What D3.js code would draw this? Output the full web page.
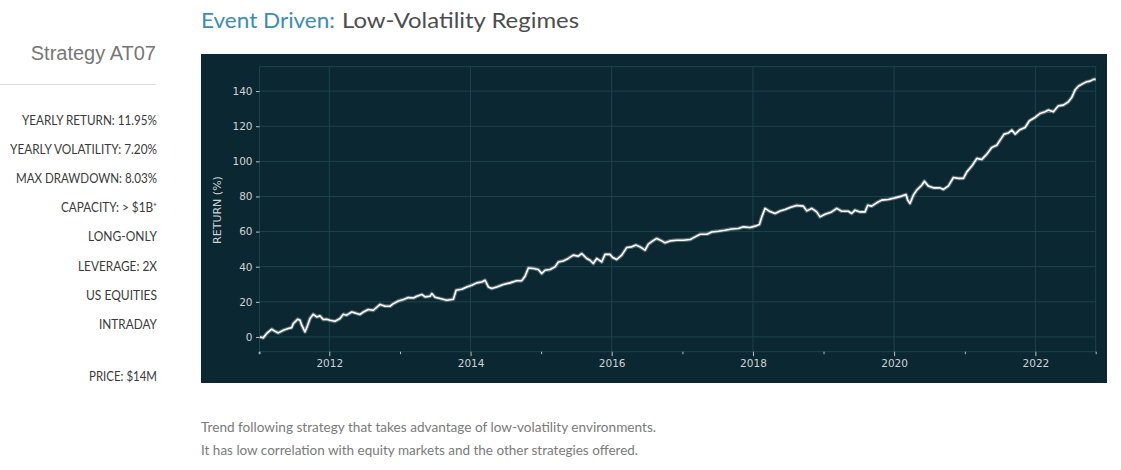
<!DOCTYPE html>
<html>
<head>
<meta charset="utf-8">
<script src="https://cdn.jsdelivr.net/npm/d3@7"></script>
<style>
  html, body { margin: 0; padding: 0; background: #fff; }
  svg { display: block; }
</style>
</head>
<body>
<svg id="page" width="1121" height="470"></svg>
<script>
const years = [
  2011.018, 2011.065, 2011.113, 2011.184, 2011.231, 2011.278, 2011.348, 2011.419, 2011.467, 2011.490,
  2011.552, 2011.585, 2011.609, 2011.656, 2011.688, 2011.727, 2011.773, 2011.822, 2011.868, 2011.915,
  2011.963, 2012.010, 2012.081, 2012.152, 2012.198, 2012.246, 2012.317, 2012.364, 2012.435, 2012.482,
  2012.552, 2012.623, 2012.718, 2012.789, 2012.860, 2012.907, 2012.977, 2013.048, 2013.119, 2013.190,
  2013.238, 2013.309, 2013.356, 2013.426, 2013.450, 2013.497, 2013.568, 2013.663, 2013.756, 2013.795,
  2013.875, 2013.946, 2014.017, 2014.088, 2014.159, 2014.205, 2014.252, 2014.300, 2014.371, 2014.465,
  2014.559, 2014.654, 2014.725, 2014.772, 2014.819, 2014.890, 2014.960, 2015.008, 2015.055, 2015.126,
  2015.197, 2015.244, 2015.314, 2015.385, 2015.456, 2015.527, 2015.575, 2015.646, 2015.693, 2015.739,
  2015.788, 2015.858, 2015.905, 2015.976, 2016.014, 2016.071, 2016.142, 2016.212, 2016.283, 2016.344,
  2016.401, 2016.472, 2016.518, 2016.581, 2016.637, 2016.708, 2016.755, 2016.826, 2016.921, 2017.014,
  2017.109, 2017.180, 2017.251, 2017.346, 2017.416, 2017.510, 2017.605, 2017.700, 2017.793, 2017.864,
  2017.959, 2018.030, 2018.091, 2018.125, 2018.171, 2018.242, 2018.313, 2018.384, 2018.455, 2018.525,
  2018.620, 2018.714, 2018.762, 2018.833, 2018.904, 2018.950, 2019.021, 2019.116, 2019.187, 2019.258,
  2019.351, 2019.399, 2019.446, 2019.517, 2019.588, 2019.626, 2019.683, 2019.754, 2019.824, 2019.918,
  2020.013, 2020.108, 2020.169, 2020.193, 2020.225, 2020.272, 2020.320, 2020.391, 2020.428, 2020.484,
  2020.555, 2020.650, 2020.697, 2020.768, 2020.839, 2020.909, 2020.980, 2021.028, 2021.099, 2021.171,
  2021.241, 2021.312, 2021.382, 2021.453, 2021.500, 2021.557, 2021.618, 2021.666, 2021.713, 2021.773,
  2021.854, 2021.915, 2021.995, 2022.067, 2022.137, 2022.184, 2022.255, 2022.326, 2022.397, 2022.467,
  2022.516, 2022.562, 2022.609, 2022.680, 2022.728, 2022.775, 2022.822, 2022.855
];
// cumulative return (%)
const returns = [
  0.0, -0.5, 2.0, 4.4, 3.2, 2.3, 3.8, 4.8, 5.3, 7.6,
  10.1, 9.5, 6.7, 2.9, 6.1, 10.5, 12.9, 11.4, 12.0, 9.9,
  10.1, 9.5, 8.9, 10.5, 12.9, 12.4, 14.2, 13.7, 12.8, 14.2,
  15.6, 15.2, 18.5, 17.5, 17.5, 19.0, 20.5, 21.3, 22.4, 22.2,
  23.2, 24.2, 22.8, 23.2, 24.7, 22.6, 21.9, 20.9, 21.5, 26.6,
  27.2, 28.5, 29.5, 30.8, 31.3, 32.3, 28.5, 27.6, 28.5, 29.9,
  30.8, 32.0, 32.0, 34.6, 39.3, 39.0, 38.4, 36.1, 38.0, 38.4,
  39.9, 42.7, 43.3, 44.7, 46.6, 46.0, 47.5, 44.7, 43.7, 41.8,
  44.7, 42.7, 47.0, 47.0, 45.2, 44.1, 46.6, 50.9, 51.3, 52.3,
  51.3, 49.4, 52.8, 54.7, 56.1, 54.7, 53.6, 54.7, 55.1, 55.1,
  55.5, 57.0, 58.5, 58.5, 59.8, 60.2, 60.8, 61.5, 61.8, 62.7,
  62.3, 63.1, 64.0, 68.4, 73.2, 71.4, 70.3, 71.7, 72.6, 73.7,
  74.9, 74.5, 71.8, 73.2, 71.2, 68.4, 69.9, 71.2, 73.2, 71.6,
  71.6, 70.3, 72.2, 71.2, 71.2, 75.0, 74.5, 76.4, 77.9, 78.3,
  79.2, 80.2, 81.1, 77.9, 76.0, 80.7, 83.6, 86.4, 88.7, 85.9,
  84.9, 84.9, 84.0, 86.0, 90.8, 90.3, 90.3, 94.0, 97.3, 101.7,
  101.1, 104.1, 107.9, 109.2, 112.1, 115.5, 116.2, 117.8, 115.5, 117.8,
  119.3, 123.1, 125.0, 127.3, 128.2, 129.2, 128.2, 131.6, 132.0, 133.9,
  136.4, 140.6, 142.8, 144.4, 145.3, 145.7, 146.7, 146.7
];
const yTicks = [0, 20, 40, 60, 80, 100, 120, 140];
const majorYears = [2012, 2014, 2016, 2018, 2020, 2022];
const minorYears = [2011, 2013, 2015, 2017, 2019, 2021];

const stats = [
  "YEARLY RETURN: 11.95%",
  "YEARLY VOLATILITY: 7.20%",
  "MAX DRAWDOWN: 8.03%",
  "CAPACITY: > $1B\u207A",
  "LONG-ONLY",
  "LEVERAGE: 2X",
  "US EQUITIES",
  "INTRADAY",
];
const statWidths = [135, 147, 141, 96, 69, 79, 71, 58];
const price = "PRICE: $14M";
const description = [
  "Trend following strategy that takes advantage of low-volatility environments.",
  "It has low correlation with equity markets and the other strategies offered.",
];

function toDate(t) {
  const y = Math.floor(t);
  const a = new Date(y, 0, 1);
  const b = new Date(y + 1, 0, 1);
  return new Date(+a + (t - y) * (b - a));
}

const svg = d3.select("#page");
const textFont = "Lato, 'Open Sans', sans-serif";

// ---- header & side column
svg.append("text")
  .attr("x", 201).attr("y", 28)
  .attr("textLength", 134).attr("lengthAdjust", "spacingAndGlyphs")
  .style("font-family", textFont).style("font-size", "22px")
  .attr("fill", "#3b8db3")
  .text("Event Driven:");
svg.append("text")
  .attr("x", 342).attr("y", 28)
  .attr("textLength", 237).attr("lengthAdjust", "spacingAndGlyphs")
  .style("font-family", textFont).style("font-size", "22px")
  .attr("fill", "#4d4d4d")
  .text("Low-Volatility Regimes");

svg.append("text")
  .attr("x", 156).attr("y", 60)
  .attr("text-anchor", "end")
  .style("font-family", "'Liberation Sans', Arial, sans-serif").style("font-size", "20px")
  .attr("fill", "#777")
  .text("Strategy AT07");
svg.append("line")
  .attr("x1", 0).attr("x2", 156).attr("y1", 84.5).attr("y2", 84.5)
  .attr("stroke", "#ddd");

const side = svg.append("g")
  .style("font-family", textFont).style("font-size", "12.5px")
  .attr("fill", "#3a3a3a")
  .attr("text-anchor", "end");
side.selectAll("text.stat")
  .data(stats)
  .enter()
  .append("text")
  .attr("class", "stat")
  .attr("x", 157)
  .attr("y", (d, i) => 124.5 + i * 29.2)
  .attr("textLength", (d, i) => statWidths[i])
  .attr("lengthAdjust", "spacingAndGlyphs")
  .text(d => d);
side.append("text")
  .attr("x", 157).attr("y", 381)
  .attr("textLength", 68).attr("lengthAdjust", "spacingAndGlyphs")
  .text(price);

svg.append("g")
  .style("font-family", textFont).style("font-size", "13px")
  .attr("fill", "#7a7a7a")
  .selectAll("text")
  .data(description)
  .enter()
  .append("text")
  .attr("x", 201)
  .attr("y", (d, i) => 432 + i * 23)
  .attr("textLength", (d, i) => (i === 0 ? 455 : 437))
  .attr("lengthAdjust", "spacingAndGlyphs")
  .text(d => d);

// ---- chart panel
const panel = { x: 201, y: 54, w: 906, h: 329 };
const plot = { left: 259.5, top: 66.7, right: 1095.7, bottom: 351.7 };
const bg = "#0b2731";
const gridColor = "#1d434d";
const tickColor = "#cfd3d4";

svg.append("rect")
  .attr("x", panel.x).attr("y", panel.y)
  .attr("width", panel.w).attr("height", panel.h)
  .attr("fill", bg);

const x = d3.scaleTime()
  .domain([toDate(2011.011), toDate(2022.855)])
  .range([plot.left, plot.right]);
const y = d3.scaleLinear()
  .domain([-8.4, 153.9])
  .range([plot.bottom, plot.top]);

const grid = svg.append("g").attr("stroke", gridColor).attr("stroke-width", 1);
grid.selectAll("line.h")
  .data(yTicks)
  .enter()
  .append("line")
  .attr("class", "h")
  .attr("x1", plot.left).attr("x2", plot.right)
  .attr("y1", d => y(d)).attr("y2", d => y(d));
grid.selectAll("line.v")
  .data(majorYears)
  .enter()
  .append("line")
  .attr("class", "v")
  .attr("x1", d => x(new Date(d, 0, 1))).attr("x2", d => x(new Date(d, 0, 1)))
  .attr("y1", plot.top).attr("y2", plot.bottom);
grid.append("rect")
  .attr("x", plot.left).attr("y", plot.top)
  .attr("width", plot.right - plot.left).attr("height", plot.bottom - plot.top)
  .attr("fill", "none");

// axes
svg.append("g")
  .attr("transform", `translate(${plot.left},0)`)
  .call(d3.axisLeft(y).tickValues(yTicks).tickSize(3.5).tickPadding(3.5).tickFormat(d3.format("d")));
svg.append("g")
  .attr("transform", `translate(0,${plot.bottom})`)
  .call(d3.axisBottom(x).tickValues(majorYears.map(d => new Date(d, 0, 1)))
    .tickSize(4.5).tickPadding(3.5).tickFormat(d3.timeFormat("%Y")));
svg.append("g")
  .attr("transform", `translate(0,${plot.bottom})`)
  .call(d3.axisBottom(x)
    .tickValues(minorYears.map(d => new Date(d, 0, 1)).concat([x.domain()[0], x.domain()[1]]))
    .tickSize(2.5).tickFormat(""));

svg.selectAll(".domain").remove();
svg.selectAll(".tick line").attr("stroke", tickColor).attr("stroke-width", 0.9);
svg.selectAll(".tick text")
  .attr("fill", tickColor)
  .style("font-family", "'DejaVu Sans', sans-serif")
  .style("font-size", "10.5px");

svg.append("text")
  .attr("transform", `translate(221,210)rotate(-90)`)
  .attr("text-anchor", "middle")
  .attr("fill", tickColor)
  .style("font-family", "'DejaVu Sans', sans-serif")
  .style("font-size", "11px")
  .text("RETURN (%)");

// ---- the curve
const points = years.map((t, i) => ({ date: toDate(t), value: returns[i] }));
const line = d3.line()
  .x(d => x(d.date))
  .y(d => y(d.value));

svg.append("path")
  .datum(points)
  .attr("d", line)
  .attr("fill", "none")
  .attr("stroke", "#ffffff")
  .attr("stroke-opacity", 0.3)
  .attr("stroke-width", 3.8)
  .attr("stroke-linejoin", "round");
svg.append("path")
  .datum(points)
  .attr("d", line)
  .attr("fill", "none")
  .attr("stroke", "#ffffff")
  .attr("stroke-width", 1.6)
  .attr("stroke-linejoin", "round");
</script>
</body>
</html>
